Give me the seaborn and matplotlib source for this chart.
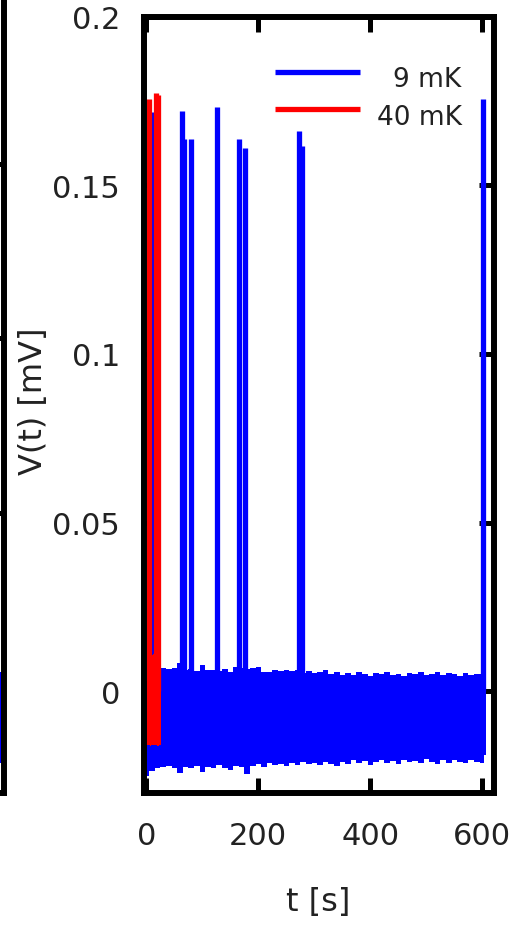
import numpy as np
import pandas as pd
import matplotlib
matplotlib.use('Agg')
import matplotlib.pyplot as plt
import seaborn as sns

# 9 mK trace: noise band envelope (mV)
band_t_9mK = [0, 10, 20, 30, 40, 50, 60, 70, 80, 90, 100, 110, 120, 130, 140, 150,
              160, 170, 180, 190, 200, 210, 220, 230, 240, 250, 260, 270, 280, 290,
              300, 310, 320, 330, 340, 350, 360, 370, 380, 390, 400, 410, 420, 430,
              440, 450, 460, 470, 480, 490, 500, 510, 520, 530, 540, 550, 560, 570,
              580, 590, 600, 606]
band_top_9mK = [0.0030, 0.0050, 0.0060, 0.0068, 0.0066, 0.0070, 0.0083, 0.0062, 0.0065,
                0.0059, 0.0077, 0.0062, 0.0064, 0.0060, 0.0066, 0.0058, 0.0071, 0.0069,
                0.0065, 0.0068, 0.0072, 0.0056, 0.0058, 0.0062, 0.0060, 0.0063, 0.0061,
                0.0064, 0.0055, 0.0059, 0.0053, 0.0056, 0.0062, 0.0050, 0.0056, 0.0047,
                0.0053, 0.0049, 0.0057, 0.0051, 0.0046, 0.0055, 0.0050, 0.0057, 0.0048,
                0.0052, 0.0044, 0.0054, 0.0050, 0.0056, 0.0047, 0.0052, 0.0058, 0.0049,
                0.0055, 0.0051, 0.0046, 0.0053, 0.0048, 0.0052, 0.0050, 0.0020]
band_bot_9mK = [-0.0250, -0.0235, -0.0228, -0.0225, -0.0222, -0.0226, -0.0243, -0.0224,
                -0.0228, -0.0222, -0.0238, -0.0224, -0.0227, -0.0219, -0.0226, -0.0232,
                -0.0221, -0.0225, -0.0244, -0.0220, -0.0216, -0.0223, -0.0212, -0.0218,
                -0.0214, -0.0221, -0.0211, -0.0217, -0.0209, -0.0215, -0.0212, -0.0219,
                -0.0208, -0.0214, -0.0222, -0.0210, -0.0216, -0.0205, -0.0213, -0.0207,
                -0.0218, -0.0209, -0.0204, -0.0212, -0.0206, -0.0215, -0.0203, -0.0210,
                -0.0206, -0.0213, -0.0202, -0.0209, -0.0214, -0.0205, -0.0211, -0.0203,
                -0.0208, -0.0212, -0.0204, -0.0209, -0.0213, -0.0190]

# 9 mK trace: spikes (time in s, peak in mV)
spike_t_9mK = [11.5, 63, 67, 80, 127, 166, 176, 273, 278, 601]
spike_v_9mK = [0.1717, 0.1720, 0.1637, 0.1637, 0.1732, 0.1637, 0.1610, 0.1660, 0.1617, 0.1756]

# 40 mK trace: noise band and spikes
band_t_40mK = [1, 4, 8, 10, 13, 17, 21, 25, 27]
band_top_40mK = [0.0090, 0.0100, 0.0110, 0.0107, 0.0110, 0.0100, 0.0090, 0.0080, 0.0070]
band_bot_40mK = [-0.0160, -0.0158, -0.0161, -0.0159, -0.0160, -0.0158, -0.0161, -0.0159, -0.0160]
spike_t_40mK = [4.5, 17, 21]
spike_v_40mK = [0.1755, 0.1773, 0.1768]

# neighbouring panel (only its right edge is in the picture)
band_t_left = [560, 580, 600, 620]
band_top_left = [0.0050, 0.0046, 0.0048, 0.0046]
band_bot_left = [-0.0210, -0.0214, -0.0212, -0.0214]

xtick_vals = [0, 200, 400, 600]
ytick_vals = [0, 0.05, 0.1, 0.15, 0.2]
ytick_labels = ['0', '0.05', '0.1', '0.15', '0.2']
legend_labels = ['9 mK', '40 mK']

BLUE = '#0000ff'
RED = '#ff0000'
LW = 3.8


def spike_frame(ts, vs):
    rows = []
    for i, (t, v) in enumerate(zip(ts, vs)):
        rows.append({'t': t, 'v': 0.0, 'id': i})
        rows.append({'t': t, 'v': v, 'id': i})
    return pd.DataFrame(rows)


def style_frame(a):
    for sp in a.spines.values():
        sp.set_visible(True)
        sp.set_linewidth(4.3)
        sp.set_color('black')
        sp.set_zorder(10)
    a.tick_params(direction='in', length=11, width=3.6, color='black',
                  top=True, right=True, bottom=True, left=True)


sns.set_style('ticks')
plt.rcParams['font.family'] = ['DejaVu Sans']

fig = plt.figure(figsize=(5.19, 9.37), dpi=100)
ax_left = fig.add_axes([-1.0, 0.1531, 1.0077, 0.8575])
ax = fig.add_axes([0.2765, 0.1531, 0.6744, 0.8282])

# partial neighbouring panel
ax_left.fill_between(band_t_left, band_bot_left, band_top_left, step='mid',
                     color=BLUE, lw=0, zorder=1)
ax_left.set_xlim(-5, 620)
ax_left.set_ylim(-0.03, 0.2)
ax_left.set_xticks(xtick_vals)
ax_left.set_yticks(ytick_vals)
style_frame(ax_left)
ax_left.tick_params(labelleft=False, labelbottom=False)

# main panel
ax.fill_between(band_t_9mK, band_bot_9mK, band_top_9mK, step='mid',
                color=BLUE, lw=0, zorder=1)
sns.lineplot(data=spike_frame(spike_t_9mK, spike_v_9mK), x='t', y='v', units='id',
             estimator=None, sort=False, color=BLUE, lw=LW, solid_capstyle='butt',
             zorder=2, ax=ax)
ax.fill_between(band_t_40mK, band_bot_40mK, band_top_40mK, step='mid',
                color=RED, lw=0, zorder=3)
sns.lineplot(data=spike_frame(spike_t_40mK, spike_v_40mK), x='t', y='v', units='id',
             estimator=None, sort=False, color=RED, lw=LW, solid_capstyle='butt',
             zorder=4, ax=ax)

# legend, gnuplot style (sample on the left, right-justified text)
for col, lab, yk, yb in [(BLUE, legend_labels[0], 0.928, 0.911),
                         (RED, legend_labels[1], 0.881, 0.8615)]:
    ax.plot([0.376, 0.619], [yk, yk], transform=ax.transAxes, color=col, lw=LW,
            solid_capstyle='butt', zorder=6)
    ax.text(0.909, yb, lab, transform=ax.transAxes, ha='right', va='baseline',
            fontsize=19, color='#222222', zorder=6)

ax.set_xlim(-5, 620)
ax.set_ylim(-0.03, 0.2)
ax.set_xticks(xtick_vals)
ax.set_yticks(ytick_vals, ytick_labels)
style_frame(ax)
ax.tick_params(axis='both', labelsize=22, labelcolor='#222222')
ax.tick_params(axis='y', pad=17)
ax.tick_params(axis='x', pad=20.5)

ax.set_xlabel('t [s]', fontsize=23, color='#222222')
ax.set_ylabel('V(t) [mV]', fontsize=23, color='#222222')
ax.xaxis.set_label_coords(0.5, -0.1205)
ax.yaxis.set_label_coords(-0.27, 0.505)

fig.savefig('out.png', dpi=100)
